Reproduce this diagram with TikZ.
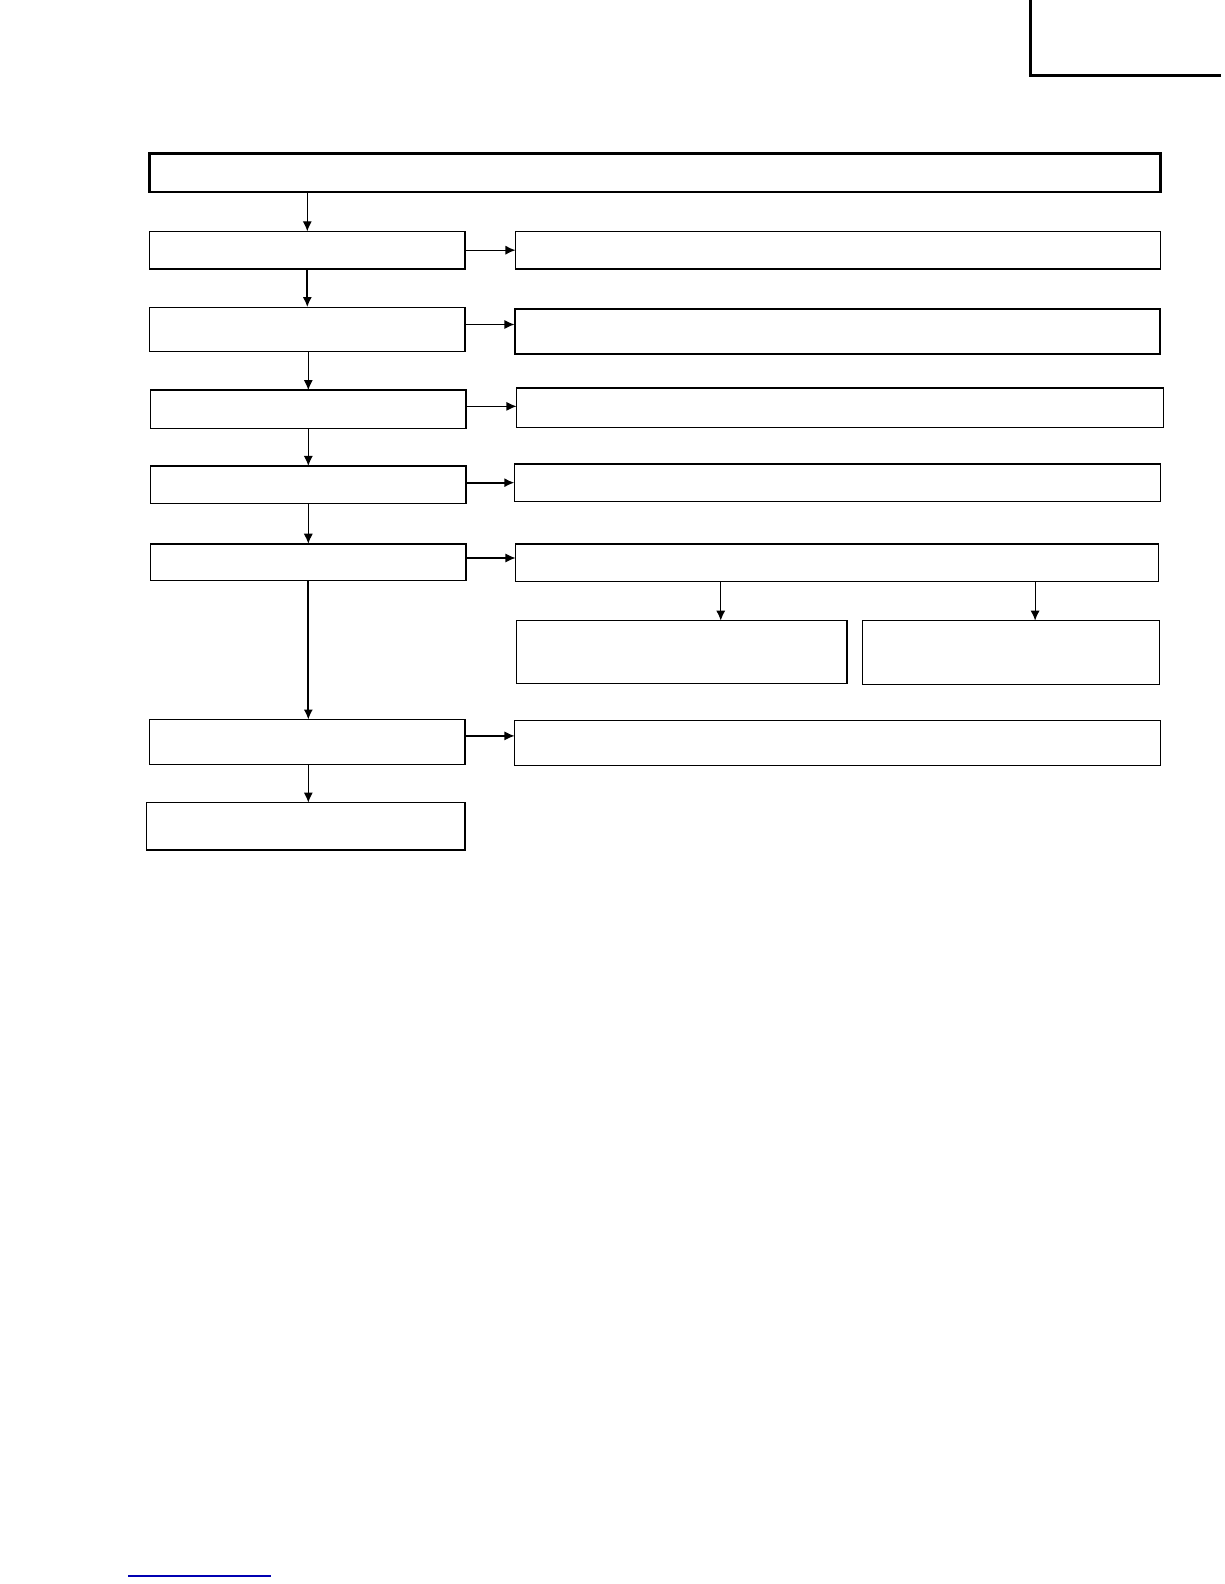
\documentclass[tikz,border=0pt]{standalone}
\usepackage{tikz}
\usetikzlibrary{arrows.meta}

\begin{document}
\begin{tikzpicture}[x=0.5pt, y=-0.5pt,
	box/.style={draw, line width=0.7pt, inner sep=0pt, outer sep=0pt, minimum width=156pt},
	arr/.style={-{Latex[length=5pt,width=4.5pt]}, line width=0.6pt},
	thickarr/.style={-{Latex[length=5pt,width=4.5pt]}, line width=1.1pt}]
	\useasboundingbox (0,0) rectangle (1211,1567);
	\draw[line width=1.5pt] (1019,0) -- (1019,75) -- (1208,75);
	\node[box, line width=1.4pt, minimum width=500pt, minimum height=19pt] (top) at (648,171) {};
	\node[box, minimum height=18.5pt] (l1) at (304,247.5) {};
	\node[box, minimum width=319pt, minimum height=18.5pt] (r1) at (829,247.5) {};
	\node[box, minimum height=22pt] (l2) at (304,326) {};
	\node[box, line width=1pt, minimum width=319.5pt, minimum height=22pt] (r2) at (828.5,328) {};
	\node[box, minimum height=19pt] (l3) at (305,405) {};
	\node[box, minimum width=320pt, minimum height=19.5pt] (r3) at (831,403.5) {};
	\node[box, minimum height=18.5pt] (l4) at (305,479.5) {};
	\node[box, minimum width=319.5pt, minimum height=18.5pt] (r4) at (828.5,477.5) {};
	\node[box, minimum height=18pt] (l5) at (305,556) {};
	\node[box, minimum width=318pt, minimum height=18.5pt] (r5) at (828,556.5) {};
	\node[box, minimum width=163.5pt, minimum height=31pt] (a5) at (674.5,645) {};
	\node[box, minimum width=147pt, minimum height=31.5pt] (b5) at (1000,645.5) {};
	\node[box, minimum height=22pt] (l6) at (304,734) {};
	\node[box, minimum width=319.5pt, minimum height=22pt] (r6) at (828.5,735) {};
	\node[box, minimum width=157.5pt, minimum height=23.5pt] (l7) at (302.5,817.5) {};
	% down the left column
	\draw[arr] (l1.north |- top.south) -- (l1.north);
	\draw[thickarr] (l1.south) -- (l2.north);
	\draw[arr] (l3.north |- l2.south) -- (l3.north);
	\draw[arr] (l3.south) -- (l4.north);
	\draw[arr] (l4.south) -- (l5.north);
	\draw[thickarr] (l5.south) -- (l5.south |- l6.north);
	\draw[arr] (l5.south |- l6.south) -- (l5.south |- l7.north);
	% across to the right
	\draw[arr] (l1.east) -- (l1.east -| r1.west);
	\draw[arr] ([yshift=2.5pt]l2.east) -- ([yshift=2.5pt]l2.east -| r2.west);
	\draw[arr] ([yshift=1.5pt]l3.east) -- ([yshift=1.5pt]l3.east -| r3.west);
	\draw[thickarr] ([yshift=1pt]l4.east) -- ([yshift=1pt]l4.east -| r4.west);
	\draw[arr] ([yshift=2pt]l5.east) -- ([yshift=2pt]l5.east -| r5.west);
	\draw[arr] ([yshift=3pt]l6.east) -- ([yshift=3pt]l6.east -| r6.west);
	\draw[arr] ([xshift=19.25pt]a5.north |- r5.south) -- ([xshift=19.25pt]a5.north);
	\draw[arr] ([xshift=12pt]b5.north |- r5.south) -- ([xshift=12pt]b5.north);
	\draw[blue!70!black, line width=0.6pt] (127,1559) -- (268,1559);
\end{tikzpicture}
\end{document}
